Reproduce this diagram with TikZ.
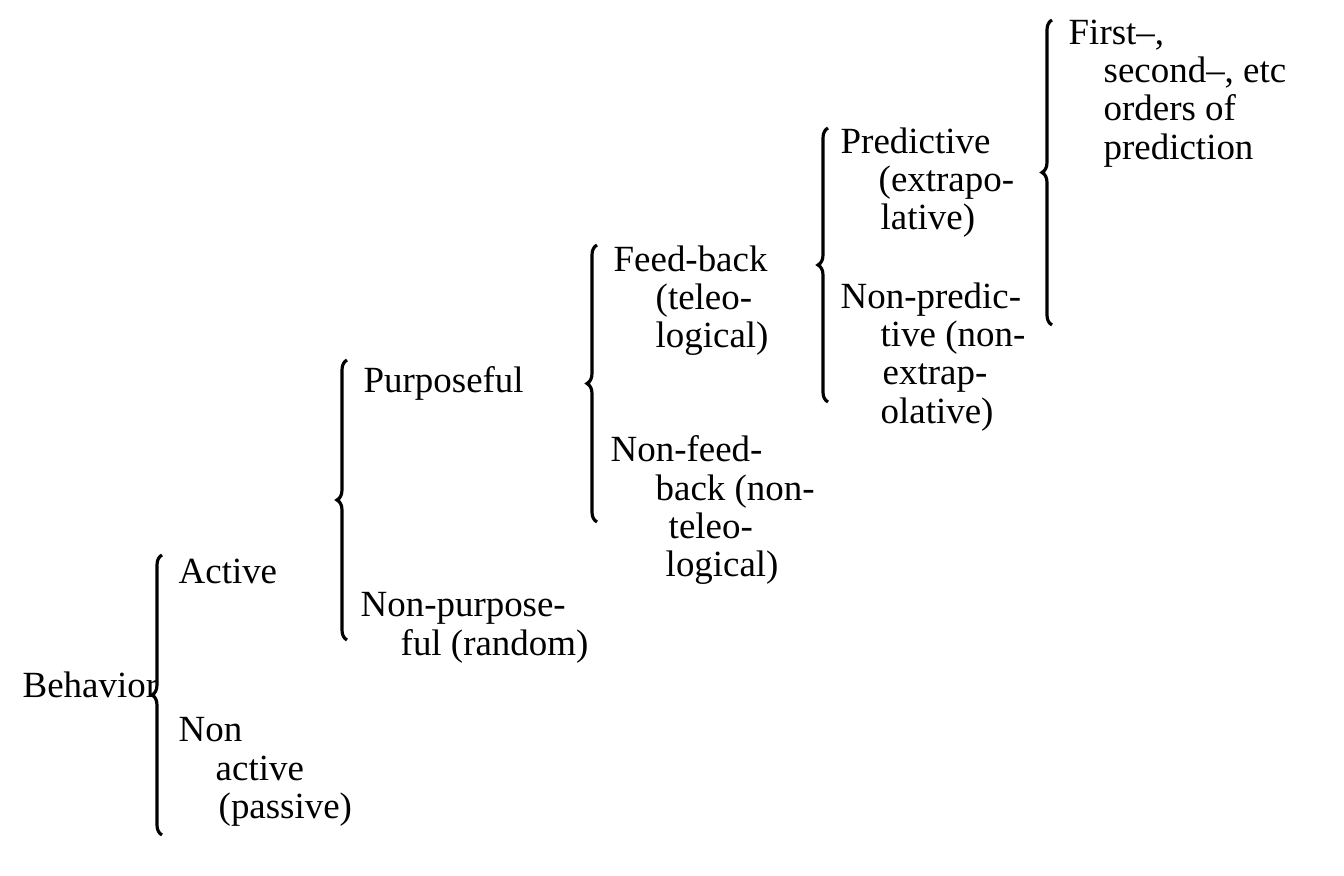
\documentclass[tikz,border=0pt]{standalone}
\usepackage{fontspec}
\setmainfont{Liberation Serif}
\usetikzlibrary{decorations.pathreplacing}

\tikzset{
  item/.style={anchor=north west, inner sep=0pt, align=left,
    font=\fontsize{10.5}{10.9}\selectfont},
  curly/.style={decorate, decoration={brace, amplitude=0.1cm}, line width=0.9pt},
}

\begin{document}
\begin{tikzpicture}[x=0.01cm, y=-0.01cm]
  \useasboundingbox (0,0) rectangle (1344,876);

  % level 1
  \node[item, anchor=base west] (behavior) at (22,698) {Behavior};
  \coordinate (b1lo) at (162,835);
  \coordinate (b1hi) at (162,555);
  \draw[curly] (b1lo) -- (b1hi);
  \node[item] (active) at (178,558) {Active};
  \node[item] (nonactive) at (178,717) {Non\\\hspace*{0.37cm}active\\\hspace*{0.4cm}(passive)};

  % level 2
  \coordinate (b2lo) at (347,640);
  \coordinate (b2hi) at (347,360);
  \draw[curly] (b2lo) -- (b2hi);
  \node[item] (purp) at (363,366) {Purposeful};
  \node[item] (nonpurp) at (360,592) {Non-purpose-\\\hspace*{0.4cm}ful (random)};

  % level 3
  \coordinate (b3lo) at (597,522);
  \coordinate (b3hi) at (597,245);
  \draw[curly] (b3lo) -- (b3hi);
  \node[item] (feed) at (613,245) {Feed-back\\\hspace*{0.42cm}(teleo-\\\hspace*{0.42cm}logical)};
  \node[item] (nonfeed) at (610,435) {Non-feed-\\\hspace*{0.45cm}back (non-\\\hspace*{0.58cm}teleo-\\\hspace*{0.55cm}logical)};

  % level 4
  \coordinate (b4lo) at (828,402);
  \coordinate (b4hi) at (828,128);
  \draw[curly] (b4lo) -- (b4hi);
  \node[item] (pred) at (840,127) {Predictive\\\hspace*{0.38cm}(extrapo-\\\hspace*{0.4cm}lative)};
  \node[item] (nonpred) at (840,282) {Non-predic-\\\hspace*{0.4cm}tive (non-\\\hspace*{0.42cm}extrap-\\\hspace*{0.4cm}olative)};

  % level 5
  \coordinate (b5lo) at (1052,325);
  \coordinate (b5hi) at (1052,20);
  \draw[curly] (b5lo) -- (b5hi);
  \node[item] (orders) at (1068,19) {First--,\\\hspace*{0.35cm}second--, etc\\\hspace*{0.35cm}orders of\\\hspace*{0.35cm}prediction};
\end{tikzpicture}
\end{document}
